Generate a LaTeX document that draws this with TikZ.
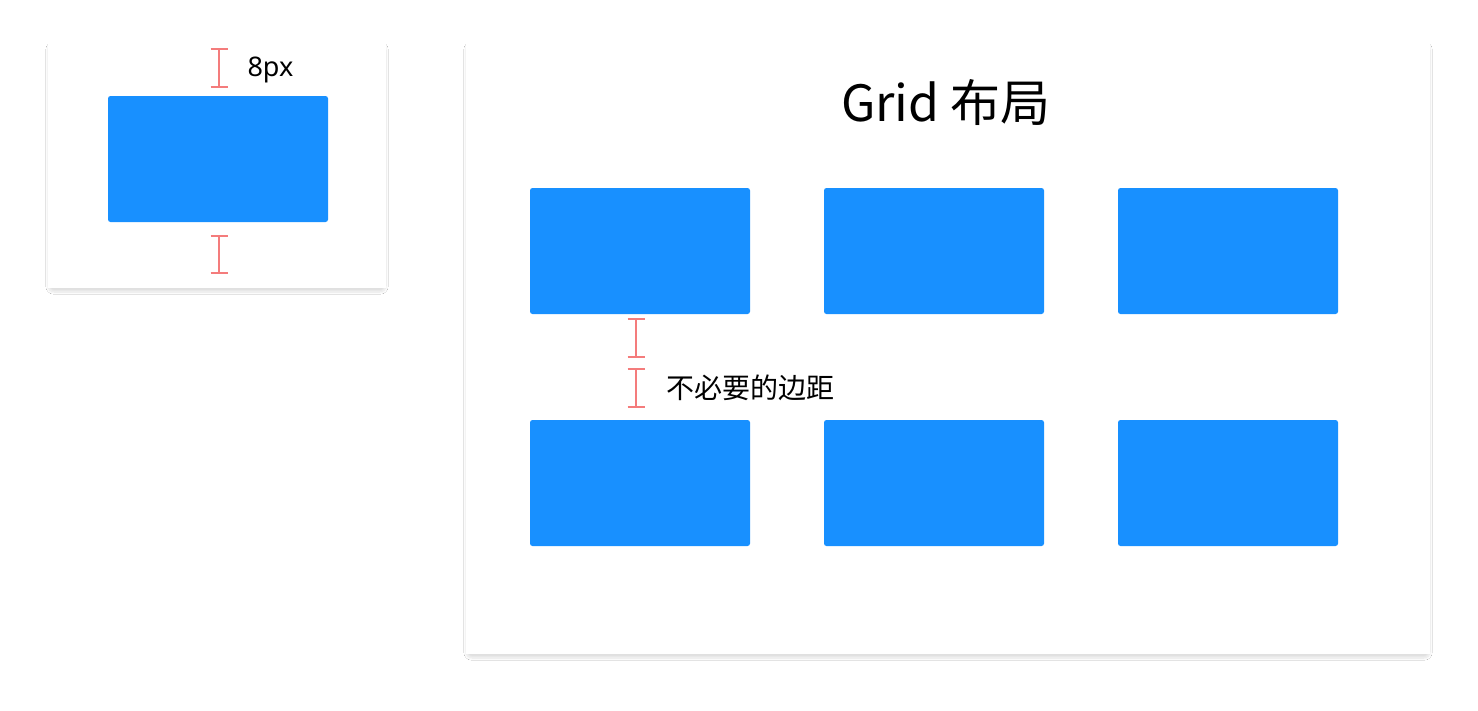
\documentclass[tikz,border=0pt]{standalone}
\usepackage{fontspec}
\setmainfont{Noto Sans}
\newfontfamily\cjk{Noto Sans CJK SC}
\usetikzlibrary{shadows.blur}
\definecolor{ablue}{HTML}{1890FF}
\definecolor{mred}{HTML}{F47C7C}
\tikzset{
 card/.style={fill=white,draw=none,blur shadow={shadow blur steps=12,shadow xshift=0pt,shadow yshift=-4pt,shadow blur extra rounding=6pt,shadow opacity=12}},
 bbox/.style={fill=ablue,draw=none,rounded corners=2.5pt},
 redmark/.style={draw=mred,line width=2.2pt},
}
\newcommand{\ibeam}[3]{% x, y1, y2
 \draw[redmark] (#1,#2) -- (#1,#3);
 \draw[redmark] (#1-8.5,#2) -- (#1+8.5,#2);
 \draw[redmark] (#1-8.5,#3) -- (#1+8.5,#3);}
\begin{document}
\begin{tikzpicture}[x=1pt,y=-1pt]
\useasboundingbox[fill=white] (0,0) rectangle (1478,710);
\fill[card] (48,40) rectangle (386,288);
\fill[card] (466,40) rectangle (1430,654);
\fill[bbox] (108,96) rectangle (328,222);
\ibeam{219}{49}{87}
\ibeam{219}{236}{273}
\node[anchor=west,font=\fontsize{27}{30}\selectfont] (l1) at (244,70) {8px};
\node[font=\cjk\fontsize{50}{56}\selectfont] (t) at (946,102) {Grid 布局};
\foreach \x in {530,824,1118}{
 \fill[bbox] (\x,188) rectangle (\x+220,314);
 \fill[bbox] (\x,420) rectangle (\x+220,546);
}
\ibeam{636}{319}{357}
\ibeam{636}{369}{407}
\node[anchor=west,font=\cjk\fontsize{28}{32}\selectfont] (l2) at (663,388) {不必要的边距};
\end{tikzpicture}
\end{document}
